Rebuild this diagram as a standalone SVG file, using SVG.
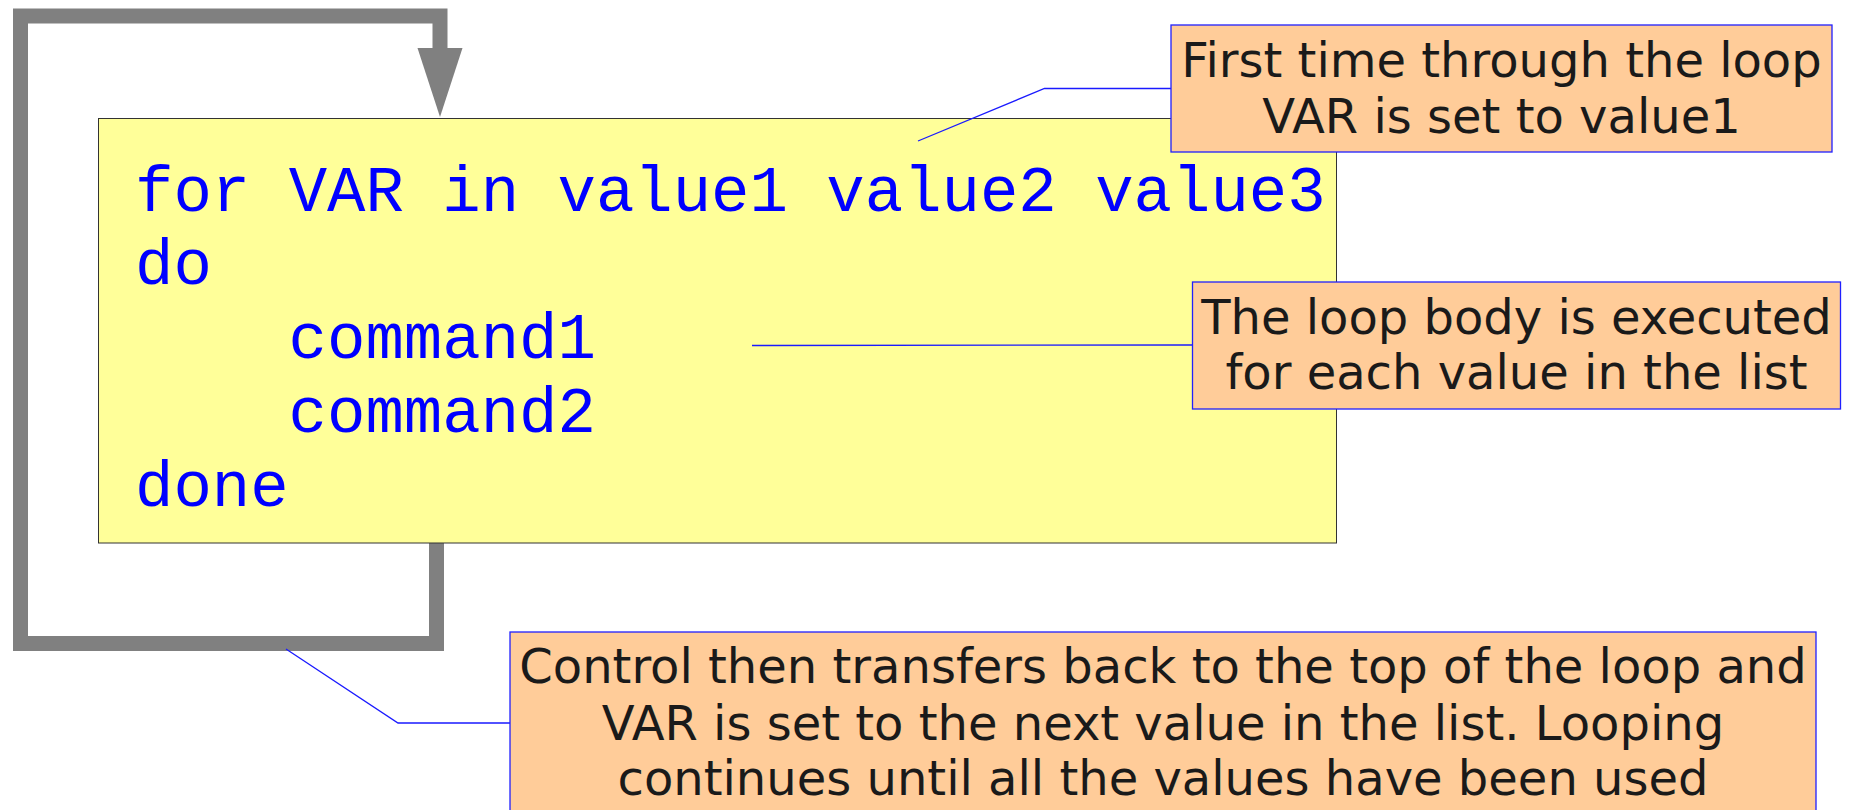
<svg xmlns="http://www.w3.org/2000/svg" width="1851" height="810" viewBox="0 0 1851 810">
  <style>
    .code { font-family: "Liberation Mono", "Courier New", monospace; font-size: 64px; fill: #0000ff; }
    .note rect { fill: #ffcc99; stroke: #2020ff; stroke-width: 1.3; }
    .note text { font-family: "DejaVu Sans", "Noto Sans", sans-serif; font-size: 48px; fill: #1a1a1a; text-anchor: middle; }
    .leader { fill: none; stroke: #1a1aff; stroke-width: 1.3; }
    .loop { fill: none; stroke: #808080; stroke-width: 15; stroke-linejoin: miter; }
  </style>

  <!-- loop-back arrow -->
  <g id="connectors">
    <path class="loop" d="M 436.5,543 V 643.5 H 20.5 V 16 H 440 V 50"/>
    <polygon points="417.5,48 462.5,48 440,117" fill="#808080"/>
  </g>

  <!-- the for-loop code block -->
  <g id="code-block">
    <rect x="98.5" y="118.5" width="1238" height="424.5" fill="#ffff99" stroke="#333333" stroke-width="1"/>
    <text class="code" x="135" y="211">for VAR in value1 value2 value3</text>
    <text class="code" x="135" y="284">do</text>
    <text class="code" x="288.6" y="358">command1</text>
    <text class="code" x="288.6" y="432">command2</text>
    <text class="code" x="135" y="506">done</text>
  </g>

  <!-- callout leaders -->
  <g id="leaders">
    <polyline class="leader" points="918,141 1044.5,88.5 1171,88.5"/>
    <polyline class="leader" points="752,345.5 1192.5,345"/>
    <polyline class="leader" points="286,649 398,723 510,723"/>
  </g>

  <g id="note-first" class="note">
    <rect x="1171" y="25" width="661" height="127"/>
    <text x="1501.5" y="77">First time through the loop</text>
    <text x="1501.5" y="133">VAR is set to value1</text>
  </g>

  <g id="note-body" class="note">
    <rect x="1192.5" y="282" width="648" height="127"/>
    <text x="1516.5" y="334">The loop body is executed</text>
    <text x="1516.5" y="389">for each value in the list</text>
  </g>

  <g id="note-repeat" class="note">
    <rect x="510" y="632" width="1306" height="190"/>
    <text x="1163" y="683">Control then transfers back to the top of the loop and</text>
    <text x="1163" y="740">VAR is set to the next value in the list. Looping</text>
    <text x="1163" y="795">continues until all the values have been used</text>
  </g>
</svg>
